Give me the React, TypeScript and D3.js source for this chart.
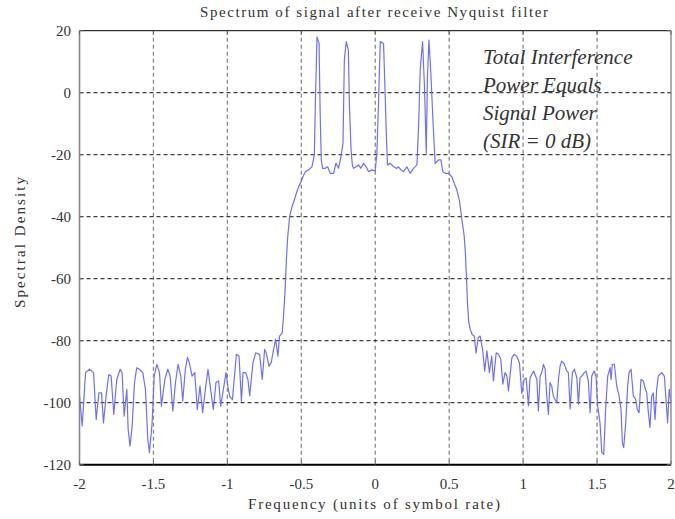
import React, { useEffect, useRef } from 'react';
import * as d3 from 'd3';

// spectrum trace (frequency in symbol-rate units, dB)
const freq = [
  -2.000, -1.982, -1.959, -1.932, -1.905, -1.887, -1.869, -1.851, -1.838, -1.820,
  -1.802, -1.786, -1.768, -1.748, -1.725, -1.712, -1.698, -1.680, -1.671, -1.658,
  -1.644, -1.628, -1.613, -1.595, -1.572, -1.554, -1.538, -1.527, -1.509, -1.495,
  -1.477, -1.459, -1.446, -1.423, -1.403, -1.387, -1.369, -1.351, -1.333, -1.315,
  -1.302, -1.284, -1.270, -1.257, -1.239, -1.221, -1.203, -1.185, -1.167, -1.149,
  -1.131, -1.113, -1.095, -1.077, -1.059, -1.045, -1.027, -1.009, -0.996, -0.984,
  -0.966, -0.939, -0.921, -0.905, -0.894, -0.876, -0.861, -0.849, -0.827, -0.809,
  -0.782, -0.764, -0.748, -0.737, -0.719, -0.703, -0.692, -0.674, -0.658, -0.647,
  -0.629, -0.620, -0.610, -0.601, -0.592, -0.579, -0.563, -0.547, -0.534, -0.518,
  -0.502, -0.489, -0.473, -0.451, -0.428, -0.412, -0.405, -0.394, -0.380, -0.372,
  -0.365, -0.356, -0.338, -0.322, -0.304, -0.282, -0.266, -0.248, -0.232, -0.218,
  -0.209, -0.196, -0.182, -0.174, -0.164, -0.155, -0.147, -0.128, -0.113, -0.097,
  -0.079, -0.061, -0.045, -0.023, 0.000, 0.011, 0.022, 0.034, 0.056, 0.068,
  0.076, 0.083, 0.101, 0.124, 0.146, 0.157, 0.174, 0.191, 0.214, 0.236,
  0.259, 0.282, 0.293, 0.304, 0.320, 0.333, 0.345, 0.353, 0.363, 0.376,
  0.390, 0.405, 0.428, 0.444, 0.457, 0.473, 0.495, 0.518, 0.534, 0.552,
  0.570, 0.586, 0.601, 0.610, 0.617, 0.624, 0.632, 0.642, 0.655, 0.669,
  0.682, 0.696, 0.709, 0.726, 0.740, 0.755, 0.772, 0.788, 0.799, 0.818,
  0.833, 0.849, 0.863, 0.878, 0.890, 0.901, 0.924, 0.939, 0.957, 0.975,
  0.991, 1.007, 1.020, 1.036, 1.047, 1.071, 1.093, 1.103, 1.115, 1.126,
  1.137, 1.149, 1.160, 1.171, 1.182, 1.193, 1.205, 1.228, 1.239, 1.250,
  1.261, 1.279, 1.295, 1.306, 1.318, 1.333, 1.347, 1.363, 1.374, 1.385,
  1.397, 1.414, 1.426, 1.441, 1.453, 1.464, 1.480, 1.493, 1.504, 1.520,
  1.532, 1.545, 1.559, 1.572, 1.588, 1.595, 1.603, 1.617, 1.633, 1.649,
  1.662, 1.671, 1.680, 1.694, 1.707, 1.716, 1.730, 1.745, 1.761, 1.772,
  1.784, 1.797, 1.813, 1.824, 1.836, 1.847, 1.858, 1.869, 1.880, 1.892,
  1.903, 1.914, 1.937, 1.955, 1.963, 1.977, 1.988, 2.000,
];

const psd = [
  -97.8, -107.5, -90.3, -89.2, -90.3, -105.4, -96.8, -96.8, -106.5, -97.8,
  -90.9, -91.4, -103.8, -92.5, -89.2, -90.3, -104.3, -95.7, -108.6, -114.0,
  -107.5, -93.5, -88.7, -89.2, -90.3, -95.7, -111.8, -116.1, -106.5, -91.4,
  -87.6, -90.3, -101.1, -92.5, -89.2, -91.4, -102.7, -93.5, -87.6, -91.4,
  -99.5, -89.2, -85.4, -87.1, -91.4, -90.3, -102.2, -94.6, -103.2, -95.7,
  -89.2, -95.7, -102.2, -93.5, -93.0, -101.1, -95.7, -90.3, -95.0, -98.0,
  -99.0, -84.4, -85.0, -99.5, -90.3, -90.3, -92.5, -97.8, -87.1, -83.9,
  -84.4, -92.5, -82.8, -84.0, -88.2, -87.0, -83.9, -79.6, -85.0, -78.5,
  -77.4, -72.0, -64.0, -54.0, -46.5, -40.0, -36.8, -34.6, -32.5, -30.3,
  -28.7, -27.1, -25.5, -24.9, -23.9, -20.1, -3.4, 18.0, 16.0, -8.0,
  -21.7, -24.4, -24.4, -23.9, -26.0, -26.0, -22.8, -24.4, -20.6, -16.3,
  10.5, 16.5, 13.8, -5.0, -18.0, -23.3, -24.4, -23.9, -23.3, -24.4,
  -22.8, -23.9, -25.5, -24.9, -25.2, -19.5, -3.4, 16.5, 15.9, -2.0,
  -15.0, -23.3, -22.8, -23.9, -24.4, -23.9, -24.9, -25.5, -23.9, -26.0,
  -24.4, -23.3, -11.0, 7.3, 16.5, 1.9, -19.5, 5.0, 17.0, 6.3,
  -8.8, -22.8, -21.7, -21.7, -25.5, -26.0, -26.0, -27.1, -29.2, -31.4,
  -35.0, -41.0, -46.0, -52.0, -60.0, -68.0, -74.0, -76.3, -78.0, -78.5,
  -84.0, -79.0, -78.5, -82.8, -89.8, -83.3, -90.3, -85.0, -93.0, -83.9,
  -84.4, -86.0, -94.0, -90.3, -91.4, -96.2, -85.5, -84.4, -85.0, -87.1,
  -97.0, -92.5, -92.0, -101.0, -92.0, -89.8, -92.5, -102.7, -91.4, -90.3,
  -87.6, -89.2, -98.0, -103.8, -93.5, -94.6, -98.0, -100.0, -92.5, -88.2,
  -86.6, -87.6, -89.8, -90.3, -102.0, -90.3, -89.2, -91.9, -100.5, -91.9,
  -91.4, -90.3, -89.8, -93.0, -103.2, -91.4, -89.8, -91.4, -101.0, -106.5,
  -116.0, -116.7, -101.0, -91.4, -88.7, -92.5, -87.6, -87.6, -94.6, -97.8,
  -102.2, -112.9, -114.5, -106.5, -94.6, -90.3, -89.2, -97.8, -98.9, -102.2,
  -103.2, -92.5, -93.0, -95.2, -96.8, -103.2, -108.0, -98.0, -96.8, -105.4,
  -95.7, -91.4, -90.3, -91.4, -96.8, -106.5, -95.7, -100.0,
];

const xTicks = [-2, -1.5, -1, -0.5, 0, 0.5, 1, 1.5, 2];
const yTicks = [20, 0, -20, -40, -60, -80, -100, -120];
const noteLines = ['Total Interference', 'Power Equals', 'Signal Power', '(SIR = 0 dB)'];
const chartTitle = 'Spectrum of signal after receive Nyquist filter';
const xTitle = 'Frequency (units of symbol rate)';
const yTitle = 'Spectral Density';

const W = 675;
const H = 519;
const FONT = '"Liberation Serif", "Times New Roman", serif';

export default function App() {
  const svgRef = useRef<SVGSVGElement>(null);

  useEffect(() => {
    const svg = d3.select(svgRef.current);
    svg.selectAll('*').remove();

    const x = d3.scaleLinear().domain([-2, 2]).range([79.5, 671]);
    const y = d3.scaleLinear().domain([-120, 20]).range([464.7, 30.7]);
    const [x0, x1] = x.range();
    const [yb, yt] = y.range();

    svg.append('rect').attr('width', W).attr('height', H).attr('fill', '#fff');

    // grid
    svg.append('g')
      .selectAll('line')
      .data(xTicks.slice(1, -1))
      .join('line')
      .attr('x1', d => x(d)).attr('x2', d => x(d))
      .attr('y1', yt).attr('y2', yb)
      .attr('stroke', '#8a8a8a')
      .attr('stroke-width', 1.3)
      .attr('stroke-dasharray', '4,3');
    svg.append('g')
      .selectAll('line')
      .data(yTicks.slice(1, -1))
      .join('line')
      .attr('x1', x0).attr('x2', x1)
      .attr('y1', d => y(d)).attr('y2', d => y(d))
      .attr('stroke', '#111')
      .attr('stroke-width', 1)
      .attr('stroke-dasharray', '4,3');

    // trace
    const line = d3.line<number>()
      .x((_, i) => x(freq[i]))
      .y(d => y(d));
    svg.append('path')
      .datum(psd)
      .attr('fill', 'none')
      .attr('stroke', '#6f6fff')
      .attr('stroke-width', 1.2)
      .attr('stroke-linejoin', 'round')
      .attr('d', line);

    // frame
    svg.append('line').attr('x1', x0).attr('x2', x1).attr('y1', yt).attr('y2', yt)
      .attr('stroke', '#000').attr('stroke-width', 1);
    svg.append('line').attr('x1', x0).attr('x2', x1).attr('y1', yb).attr('y2', yb)
      .attr('stroke', '#000').attr('stroke-width', 2);
    svg.append('line').attr('x1', x0).attr('x2', x0).attr('y1', yt).attr('y2', yb)
      .attr('stroke', '#888').attr('stroke-width', 1.6);
    svg.append('line').attr('x1', x1).attr('x2', x1).attr('y1', yt).attr('y2', yb)
      .attr('stroke', '#999').attr('stroke-width', 1.6);

    // inward ticks
    const tk = svg.append('g').attr('stroke', '#666').attr('stroke-width', 1);
    xTicks.forEach(t => {
      tk.append('line').attr('x1', x(t)).attr('x2', x(t)).attr('y1', yt).attr('y2', yt + 4);
      tk.append('line').attr('x1', x(t)).attr('x2', x(t)).attr('y1', yb).attr('y2', yb - 4);
    });
    yTicks.forEach(t => {
      tk.append('line').attr('x1', x0).attr('x2', x0 + 4).attr('y1', y(t)).attr('y2', y(t));
      tk.append('line').attr('x1', x1).attr('x2', x1 - 4).attr('y1', y(t)).attr('y2', y(t));
    });

    // tick labels
    svg.append('g')
      .selectAll('text')
      .data(yTicks)
      .join('text')
      .attr('x', 71)
      .attr('y', d => y(d))
      .attr('dy', '0.35em')
      .attr('text-anchor', 'end')
      .attr('font-family', FONT)
      .attr('font-size', 15)
      .attr('fill', '#333')
      .text(d => String(d));
    svg.append('g')
      .selectAll('text')
      .data(xTicks)
      .join('text')
      .attr('x', d => x(d))
      .attr('y', 489)
      .attr('text-anchor', 'middle')
      .attr('font-family', FONT)
      .attr('font-size', 15)
      .attr('fill', '#333')
      .text(d => String(d));

    // titles
    svg.append('text')
      .attr('x', 200).attr('y', 17)
      .attr('textLength', 348).attr('lengthAdjust', 'spacing')
      .attr('font-family', FONT).attr('font-size', 15).attr('fill', '#333')
      .text(chartTitle);
    svg.append('text')
      .attr('x', 248).attr('y', 509)
      .attr('textLength', 252).attr('lengthAdjust', 'spacing')
      .attr('font-family', FONT).attr('font-size', 15).attr('fill', '#333')
      .text(xTitle);
    svg.append('text')
      .attr('transform', 'translate(25,308) rotate(-90)')
      .attr('textLength', 131).attr('lengthAdjust', 'spacing')
      .attr('font-family', FONT).attr('font-size', 15).attr('fill', '#333')
      .text(yTitle);

    // annotation
    svg.append('g')
      .selectAll('text')
      .data(noteLines)
      .join('text')
      .attr('x', 483)
      .attr('y', (_, i) => 64 + i * 28)
      .attr('font-family', FONT)
      .attr('font-style', 'italic')
      .attr('font-size', 21)
      .attr('fill', '#333')
      .text(d => d);
  }, []);

  return (
    <svg
      ref={svgRef}
      width={W}
      height={H}
      style={{ position: 'absolute', left: 0, top: 0, display: 'block' }}
    />
  );
}
